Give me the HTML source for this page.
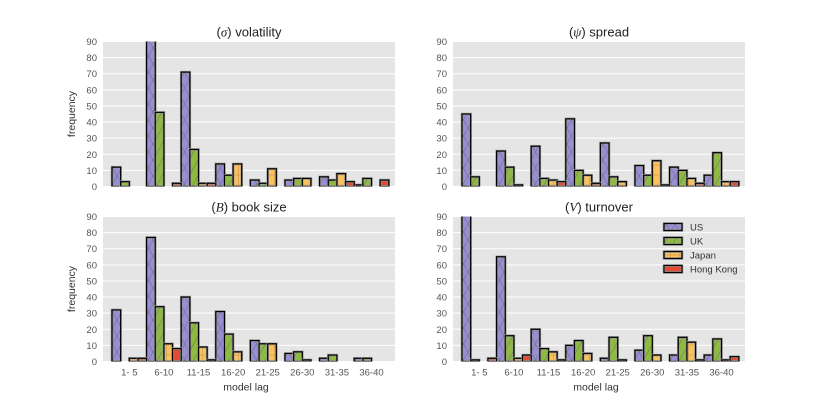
<!DOCTYPE html>
<html><head><meta charset="utf-8"><style>
html,body{margin:0;padding:0;background:#fff;}
svg{display:block;font-family:"Liberation Sans",sans-serif;}
</style></head><body>
<svg id="c" width="830" height="415" viewBox="0 0 830 415">
<defs>
<pattern id="hx" width="9" height="16" patternUnits="userSpaceOnUse"><path d="M0,0L9,16M9,0L0,16" stroke="#666" stroke-width="0.5" fill="none"/></pattern>
<pattern id="hs" width="9" height="16" patternUnits="userSpaceOnUse"><path d="M0,16L9,0" stroke="#666" stroke-width="0.5" fill="none"/></pattern>
<pattern id="hp" width="9" height="10" patternUnits="userSpaceOnUse"><path d="M4.5,0V10M0,5H9" stroke="#c0914a" stroke-width="0.5" fill="none"/></pattern>
</defs>
</svg>
<script>
const categories=["1- 5","6-10","11-15","16-20","21-25","26-30","31-35","36-40"];
const seriesNames=["US","UK","Japan","Hong Kong"];
const yTicks=[0,10,20,30,40,50,60,70,80,90];
const volUS=[12,95,71,14,4,4,6,1], volUK=[3,46,23,7,2,5,4,5], volJP=[0,0,2,14,11,5,8,0], volHK=[0,2,2,0,0,0,3,4];
const sprUS=[45,22,25,42,27,13,12,7], sprUK=[6,12,5,10,6,7,10,21], sprJP=[0,1,4,7,3,16,5,3], sprHK=[0,0,3,2,0,1,2,3];
const bookUS=[32,77,40,31,13,5,2,2], bookUK=[0,34,24,17,11,6,4,2], bookJP=[2,11,9,6,11,1,0,0], bookHK=[2,8,1,0,0,0,0,0];
const turnUS=[95,65,20,10,2,7,4,4], turnUK=[1,16,8,13,15,16,15,14], turnJP=[0,2,6,5,1,4,12,1], turnHK=[2,4,1,0,0,0,1,3];
const colors=["#988ED5","#8EBA42","#FBC15E","#E24A33"];
const hatches=["url(#hx)","url(#hs)","url(#hp)",null];
const NS="http://www.w3.org/2000/svg";
const svg=document.getElementById('c');
function mk(t,a,p){const e=document.createElementNS(NS,t);for(const k in a)e.setAttribute(k,a[k]);(p||svg).appendChild(e);return e;}
const panels=[
 {x0:103,y0:41.5,sym:"σ",rest:" volatility",data:[volUS,volUK,volJP,volHK],ylab:true,xlab:false,name:"volatility"},
 {x0:453,y0:41.5,sym:"ψ",rest:" spread",data:[sprUS,sprUK,sprJP,sprHK],ylab:false,xlab:false,name:"spread"},
 {x0:103,y0:216.5,sym:"B",rest:" book size",data:[bookUS,bookUK,bookJP,bookHK],ylab:true,xlab:true,name:"book-size"},
 {x0:453,y0:216.5,sym:"V",rest:" turnover",data:[turnUS,turnUK,turnJP,turnHK],ylab:false,xlab:true,name:"turnover",legend:true}
];
const W=292,H=145,ymax=90,gw=34.6,first=9;
panels.forEach((p,pi)=>{
 const g=mk('g',{});
 
 
 const cp='cp'+pi;
 const clip=mk('clipPath',{id:cp},g);mk('rect',{x:p.x0,y:p.y0,width:W,height:H},clip);
 const bg=mk('rect',{x:p.x0,y:p.y0,width:W,height:H,fill:'#E5E5E5'},g);
 
 
 const ys=v=>p.y0+H-v/ymax*H;
 const xs=i=>p.x0+first+gw*i;
 yTicks.forEach(t=>{
  const l=mk('line',{x1:p.x0,x2:p.x0+W,y1:ys(t),y2:ys(t),stroke:'#fff','stroke-width':1},g);
  
  
  const tx=mk('text',{x:p.x0-6,y:ys(t)+3.5,'text-anchor':'end','font-size':'9.5',fill:'#555'},g);
  tx.textContent=t;
  
  
 });
 const bars=mk('g',{'clip-path':'url(#'+cp+')'},g);
 const bw=gw/4;
 p.data.forEach((arr,s)=>{
  arr.forEach((v,i)=>{
   if(v<=0) return;
   const x=xs(i)+s*bw, y=ys(v), h=ys(0)-y;
   const r=mk('rect',{x:x,y:y,width:bw,height:h,fill:colors[s],stroke:'#999','stroke-width':2.5},bars);
   
   
   if(hatches[s]) mk('rect',{x:x,y:y,width:bw,height:h,fill:hatches[s]},bars);
   mk('rect',{x:x,y:y,width:bw,height:h,fill:'none',stroke:'#000','stroke-width':1.2},bars);
  });
 });
 const t=mk('text',{x:p.x0+W/2,y:p.y0-5,'text-anchor':'middle','font-size':'13',fill:'#222'},g);
 t.innerHTML='(<tspan font-family="Liberation Serif" font-style="italic">'+p.sym+'</tspan>)'+p.rest;
 
 
 if(p.ylab){
  const yl=mk('text',{x:0,y:0,transform:'translate('+(p.x0-28)+','+(p.y0+H/2)+') rotate(-90)','text-anchor':'middle','font-size':'10.5',fill:'#333'},g);
  yl.textContent='frequency';
  
  
 }
 if(p.xlab){
  categories.forEach((c,i)=>{
   const tx=mk('text',{x:xs(i)+gw/2,y:p.y0+H+14,'text-anchor':'middle','font-size':'9.5',fill:'#555'},g);
   tx.textContent=c;
   
   
  });
  const xl=mk('text',{x:p.x0+W/2-3,y:p.y0+H+29,'text-anchor':'middle','font-size':'10.5',fill:'#333'},g);
  xl.textContent='model lag';
  
  
 }
 if(p.legend){
  const lg=mk('g',{},g);
  
  
  seriesNames.forEach((n,s)=>{
   const yy=p.y0+7+s*14;
   const e=mk('g',{},lg);
   
   
   mk('rect',{x:664,y:yy,width:18,height:7,fill:colors[s],stroke:'#999','stroke-width':2.5},e);
   if(hatches[s]) mk('rect',{x:664,y:yy,width:18,height:7,fill:hatches[s]},e);
   mk('rect',{x:664,y:yy,width:18,height:7,fill:'none',stroke:'#000','stroke-width':1.2},e);
   const tx=mk('text',{x:690,y:yy+7,'font-size':'9.5',fill:'#333'},e);
   tx.textContent=n;
  });
 }
});
</script>
</body></html>
